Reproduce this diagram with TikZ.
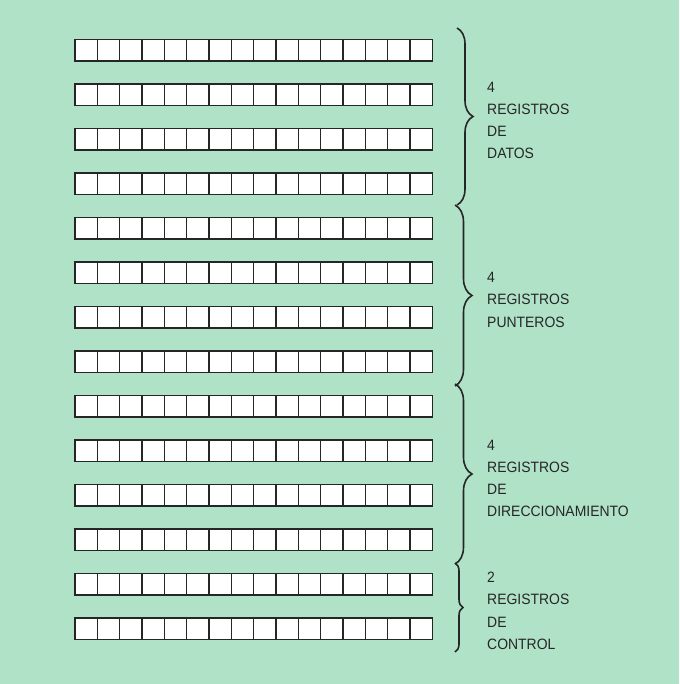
\documentclass[tikz,border=0pt]{standalone}
\usepackage{fontspec}
\setmainfont{Liberation Sans}[FakeStretch=0.93]
\usepackage{tikz}
\usetikzlibrary{positioning, decorations.pathreplacing, calc}

\definecolor{fondo}{RGB}{176,226,199}

\begin{document}
\begin{tikzpicture}[
            x=1pt, y=-1pt,
            celda/.style={draw=black!85, line width=1.5pt, fill=white, minimum width=22.33pt, minimum height=21.5pt, inner sep=0pt, outer sep=0pt},
            llave/.style={decorate, decoration={brace, amplitude=#1}, line width=1.6pt, black!85},
            llave/.default=16pt,
            etiqueta/.style={anchor=north west, align=left, inner sep=0pt, text=black!85, font=\fontsize{15}{22.3}\selectfont}
        ]

        % ======================================
        % Background
        % ======================================
        \fill[fondo] (0,0) rectangle (679,684);
        \useasboundingbox (0,0) rectangle (679,684);

        % ======================================
        % Registers: 14 rows of 16 bits
        % ======================================
        \foreach \r in {1,...,14}
        \foreach \c in {1,...,16}
        \node[celda] (R\r-\c) at ({75+22.33*(\c-0.5)}, {39.5+44.5*(\r-1)+10.75}) {};

        % ======================================
        % Braces
        % ======================================
        \coordinate (B1-top) at (457, 28);
        \coordinate (B1-bot) at (457, 205);
        \coordinate (B2-top) at (455, 205);
        \coordinate (B2-bot) at (455, 386);
        \coordinate (B3-top) at (455, 384);
        \coordinate (B3-bot) at (455, 564);
        \coordinate (B4-top) at (455, 563);
        \coordinate (B4-bot) at (455, 652);

        \draw[llave] (B1-top) -- (B1-bot);
        \draw[llave=17pt] (B2-top) -- (B2-bot);
        \draw[llave=17pt] (B3-top) -- (B3-bot);
        \draw[llave=8pt] (B4-top) -- (B4-bot);

        % ======================================
        % Labels
        % ======================================
        \node[etiqueta] (datos) at (487, 81.5) {4\\REGISTROS\\DE\\DATOS};
        \node[etiqueta] (punteros) at (487, 272) {4\\REGISTROS\\PUNTEROS};
        \node[etiqueta] (direccion) at (487, 439.5) {4\\REGISTROS\\DE\\DIRECCIONAMIENTO};
        \node[etiqueta] (control) at (487, 572) {2\\REGISTROS\\DE\\CONTROL};

    \end{tikzpicture}
\end{document}
